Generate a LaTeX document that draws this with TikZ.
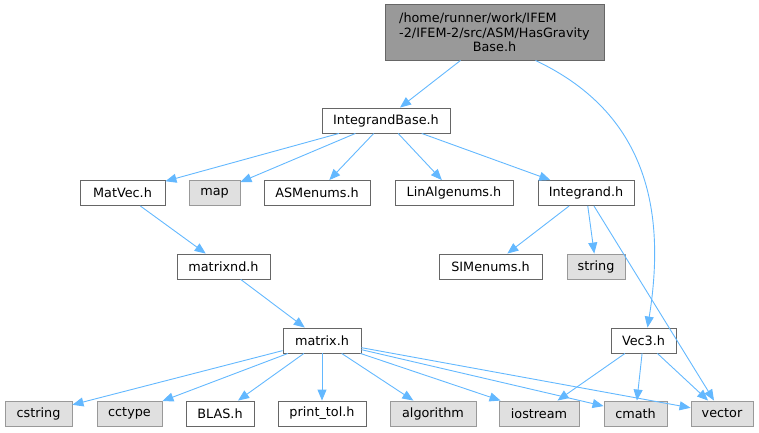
\documentclass[tikz,border=0pt]{standalone}
\usepackage{fontspec}
\setmainfont{DejaVu Sans}
\usetikzlibrary{arrows.meta}

\definecolor{edgeblue}{HTML}{63B8FF}
\definecolor{extfill}{HTML}{E0E0E0}
\definecolor{extline}{HTML}{999999}
\definecolor{topfill}{HTML}{999999}
\definecolor{boxline}{HTML}{666666}

\begin{document}
\begin{tikzpicture}[x=1pt, y=-1pt,
    font=\fontsize{12.8}{15}\selectfont,
    hdr/.style={draw=boxline, fill=white, line width=0.9pt, inner sep=0pt, minimum height=25pt},
    ext/.style={hdr, draw=extline, fill=extfill},
    inc/.style={draw=edgeblue, line width=0.9pt, -{Triangle[length=11pt,width=9pt]}}]
\useasboundingbox (0,0) rectangle (759,432);

\node[hdr, fill=topfill, minimum width=219pt, minimum height=56pt, align=center] (HGB) at (494.5,32)
  {\begin{tabular}{@{}l@{}}/home/runner/work/IFEM\\-2/IFEM-2/src/ASM/HasGravity\end{tabular}\\[-1pt]Base.h};
\node[hdr, minimum width=128pt] (IB)   at (386,120.5) {IntegrandBase.h};

\node[hdr, minimum width=85pt]  (MV)   at (122.5,193) {MatVec.h};
\node[ext, minimum width=51pt]  (MAP)  at (214.5,193) {map};
\node[hdr, minimum width=106pt] (ASM)  at (317,193)   {ASMenums.h};
\node[hdr, minimum width=118pt] (LAE)  at (454,193)   {LinAlgenums.h};
\node[hdr, minimum width=96pt]  (INT)  at (586,193)   {Integrand.h};

\node[hdr, minimum width=93pt]  (MND)  at (223.5,266.5) {matrixnd.h};
\node[hdr, minimum width=103pt] (SIM)  at (490.5,266.5) {SIMenums.h};
\node[ext, minimum width=58pt]  (STR)  at (596,266.5)   {string};

\node[hdr, minimum width=78pt]  (MAT)  at (322,340.5)   {matrix.h};
\node[hdr, minimum width=65pt]  (V3)   at (643.5,340.5) {Vec3.h};

\node[ext, minimum width=67pt]  (CSTR) at (38.5,413.5) {cstring};
\node[ext, minimum width=65pt]  (CCT)  at (129.5,413.5) {cctype};
\node[hdr, minimum width=68pt]  (BLAS) at (220,413.5)  {BLAS.h};
\node[hdr, minimum width=88pt]  (PT)   at (322,413.5)  {print\_tol.h};
\node[ext, minimum width=86pt]  (ALG)  at (433,413.5)  {algorithm};
\node[ext, minimum width=80pt]  (IOS)  at (539,413.5)  {iostream};
\node[ext, minimum width=63pt]  (CM)   at (635.5,413.5) {cmath};
\node[ext, minimum width=62pt]  (VEC)  at (722,413.5)  {vector};

% includes
\draw[inc] ([xshift=-34pt]HGB.south) -- ([xshift=14pt]IB.north);
\draw[inc] ([xshift=41pt]HGB.south) .. controls (640,110) and (668,200) .. ([xshift=4pt]V3.north);

\draw[inc] (IB) -- (MV);
\draw[inc] (IB) -- (MAP);
\draw[inc] (IB) -- (ASM);
\draw[inc] (IB) -- (LAE);
\draw[inc] (IB) -- (INT);

\draw[inc] (MV) -- (MND);
\draw[inc] (MND) -- (MAT);

\draw[inc] (INT) -- (SIM);
\draw[inc] (INT) -- (STR);
\draw[inc] (INT) -- (VEC);

\draw[inc] (MAT) -- (CSTR);
\draw[inc] (MAT) -- (CCT);
\draw[inc] (MAT) -- (BLAS);
\draw[inc] (MAT) -- (PT);
\draw[inc] (MAT) -- (ALG);
\draw[inc] (MAT) -- (IOS);
\draw[inc] (MAT) -- (CM);
\draw[inc] (MAT) -- (VEC);

\draw[inc] (V3) -- (IOS);
\draw[inc] (V3) -- (CM);
\draw[inc] (V3) -- (VEC);
\end{tikzpicture}
\end{document}
